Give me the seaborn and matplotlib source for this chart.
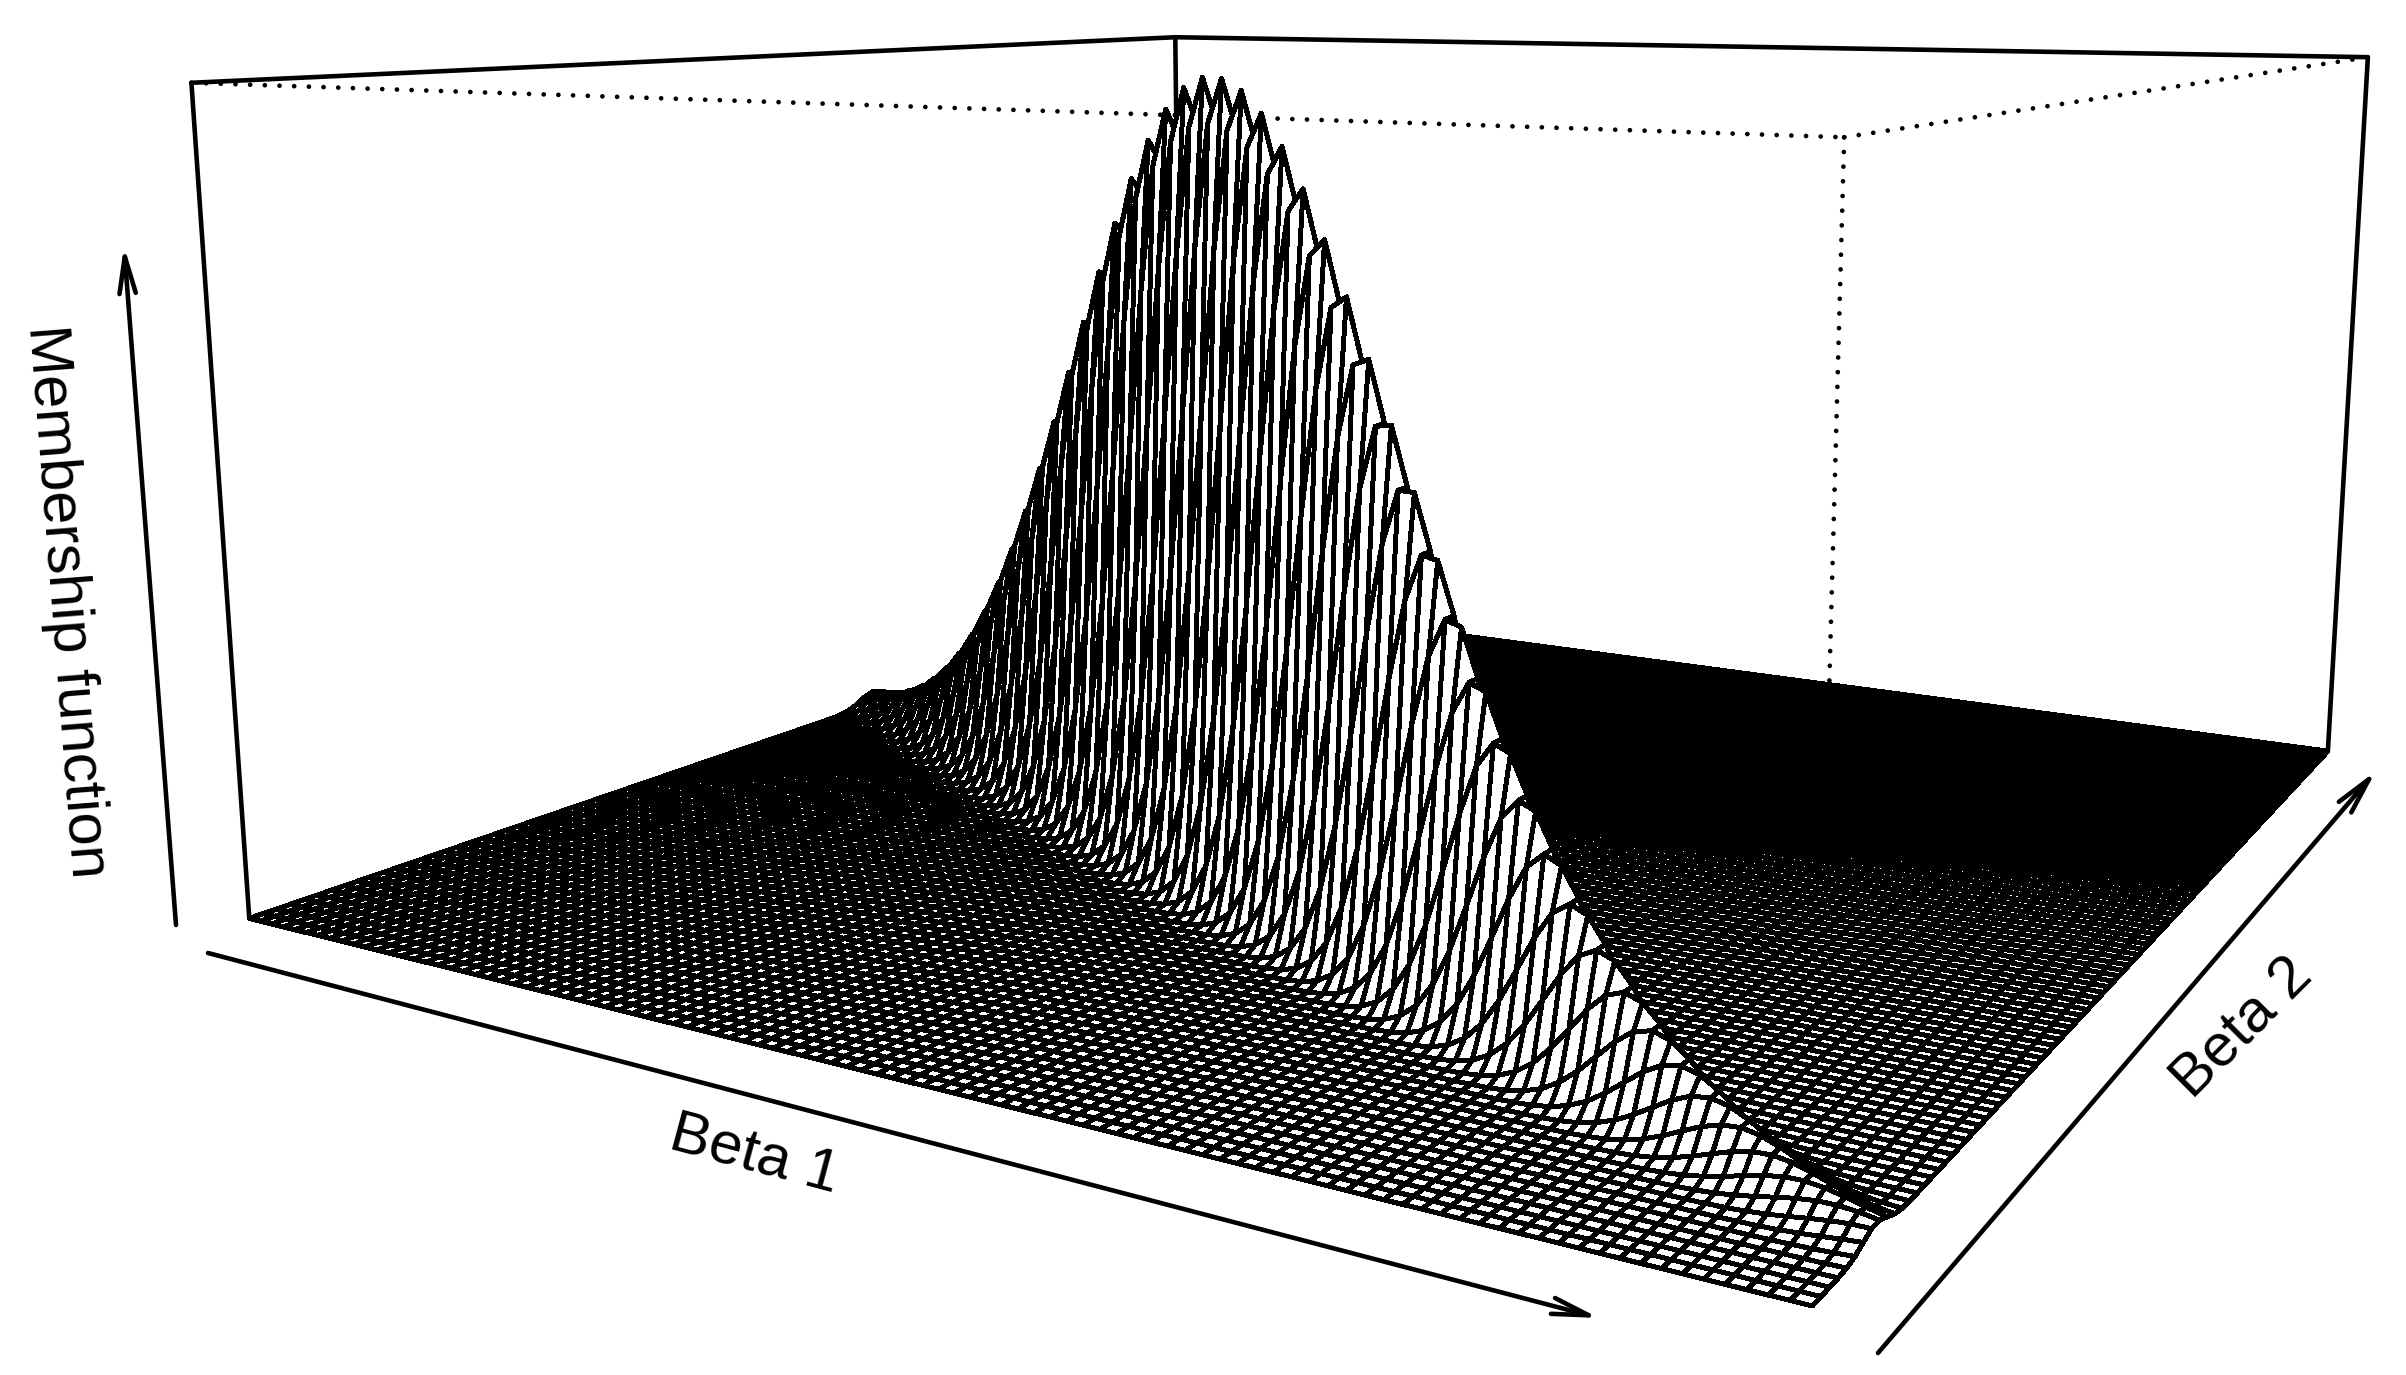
import matplotlib
matplotlib.use('Agg')
import matplotlib.pyplot as plt
from matplotlib.collections import PolyCollection
import numpy as np
import pandas as pd
import seaborn as sns

# camera of the perspective box: maps (beta1, beta2, membership) in the unit cube to pixels
CAMERA = np.array([[1042.4, 1515.56, -67.1853, 249.278],
                   [12.3837, -24.9782, -839.648, 918.398],
                   [-0.287283, 0.49321, -0.0487437, 1.0]])

# the surface has 100 x 100 nodes, too many to read one by one, so it is rebuilt
# from what can be read: where the ridge runs, how fast it falls off and how wide it is
N_GRID = 100
CROSS_I = 46
CROSS_J = 34
RIDGE_SLOPE = -0.5
PEAK_BETA1 = 0.475
SIGMA_LEFT = 0.17
SIGMA_RIGHT = 0.18
SIGMA_CROSS = 0.015

AXIS_LABELS = ['Beta 1', 'Beta 2', 'Membership function']

BOX_BACK = [((0, 0, 1), (0, 1, 1)), ((0, 1, 1), (1, 1, 1)), ((0, 0, 1), (0, 0, 0)),
            ((0, 1, 1), (0, 1, 0)), ((1, 1, 1), (1, 1, 0))]
BOX_FRONT = [((0, 0, 1), (1, 0, 1)), ((1, 0, 1), (1, 1, 1)), ((1, 0, 1), (1, 0, 0))]


def project(x, y, z):
    pts = np.stack([x, y, z, np.ones_like(x)], axis=-1)
    h = pts @ CAMERA.T
    return h[..., 0]/h[..., 2], h[..., 1]/h[..., 2]


def box_edges(edges):
    out = []
    for k, (p, q) in enumerate(edges):
        for c in (p, q):
            px, py = project(*np.array(c, dtype=float))
            out.append({'edge': k, 'px': float(px), 'py': float(py)})
    return pd.DataFrame(out)


beta1 = np.linspace(0, 1, N_GRID)
beta2 = np.linspace(0, 1, N_GRID)
b1, b2 = np.meshgrid(beta1, beta2, indexing='ij')
du = b1 - PEAK_BETA1
sig = np.where(du < 0, SIGMA_LEFT, SIGMA_RIGHT)
centre = beta2[CROSS_J] + RIDGE_SLOPE*(b1 - beta1[CROSS_I])
membership = np.exp(-0.5*(du/sig)**2 - 0.5*((b2 - centre)/SIGMA_CROSS)**2)
membership = membership/membership.max()

sns.set_theme(style='white')
plt.rcParams['font.family'] = ['Liberation Sans', 'DejaVu Sans']
fig = plt.figure(figsize=(24.06, 13.75), dpi=100)
ax = fig.add_axes([0, 0, 1, 1])

sns.lineplot(data=box_edges(BOX_BACK), x='px', y='py', units='edge', estimator=None, sort=False,
             color='black', lw=3.3, ax=ax, legend=False)
sns.lineplot(data=box_edges(BOX_FRONT), x='px', y='py', units='edge', estimator=None, sort=False,
             color='black', lw=3.4, linestyle=(0, (0.01, 3.1)), dash_capstyle='round', ax=ax, legend=False)

# far cells first, so nearer cells paint over them
sx, sy = project(b1, b2, membership)
polys = []
for j in range(N_GRID-2, -1, -1):
    for i in range(N_GRID-1):
        polys.append([(sx[i, j], sy[i, j]), (sx[i+1, j], sy[i+1, j]),
                      (sx[i+1, j+1], sy[i+1, j+1]), (sx[i, j+1], sy[i, j+1])])
ax.add_collection(PolyCollection(polys, facecolors='white', edgecolors='black', linewidths=2.85,
                                 antialiaseds=False, zorder=3))

arrow = dict(arrowstyle='->,head_length=1.9,head_width=0.42', color='black', lw=3.3,
             mutation_scale=14, shrinkA=0, shrinkB=0)
ax.annotate('', xy=(124, 246), xytext=(176, 925), arrowprops=arrow)
ax.annotate('', xy=(1599, 1318), xytext=(208, 953), arrowprops=arrow)
ax.annotate('', xy=(2376, 771), xytext=(1878, 1353), arrowprops=arrow)
ax.text(66, 601, AXIS_LABELS[2], rotation=-85.5, ha='center', va='center', fontsize=43,
        rotation_mode='anchor', color='black')
ax.text(755, 1155, AXIS_LABELS[0], rotation=-15, ha='center', va='center', fontsize=43,
        rotation_mode='anchor', color='black')
ax.text(2243, 1029, AXIS_LABELS[1], rotation=45, ha='center', va='center', fontsize=43,
        rotation_mode='anchor', color='black')

ax.set_xlim(0, 2406)
ax.set_ylim(1375, 0)
ax.set_axis_off()
fig.savefig('out.png', dpi=100)
